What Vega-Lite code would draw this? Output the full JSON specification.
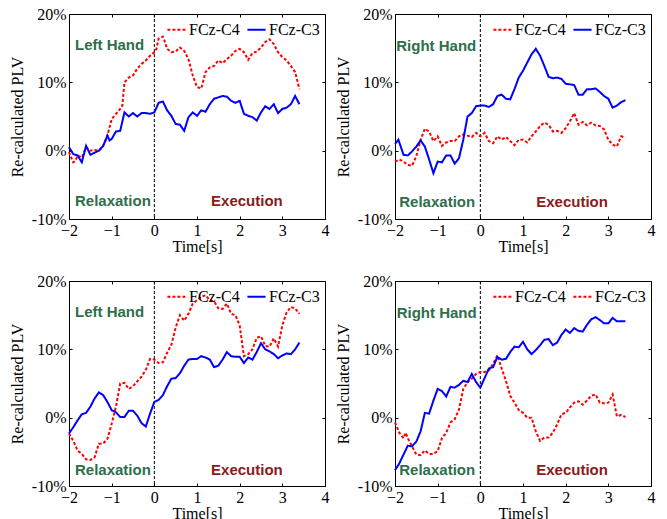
{
"$schema":"https://vega.github.io/schema/vega-lite/v6.json",
"background":"white",
"padding":{"left":8,"top":5,"right":2,"bottom":2},
"config":{
 "view":{"stroke":"black","strokeWidth":1},
 "axis":{"labelFont":"Liberation Serif","labelFontSize":16,"titleFont":"Liberation Serif","titleFontSize":16,"titleFontWeight":"normal","labelColor":"black","titleColor":"black","domainColor":"black","tickColor":"black","grid":false,"tickSize":-3,"labelPadding":6,"labelFlush":false,"labelOverlap":false},
 "axisX":{"titlePadding":0},
 "axisY":{"titlePadding":6},
 "legend":{"orient":"top-right","direction":"horizontal","labelFont":"Liberation Serif","labelFontSize":16,"labelColor":"black","symbolType":"stroke","symbolSize":330,"symbolStrokeWidth":2,"offset":5,"padding":0,"columnPadding":3,"labelOffset":2,"title":null}
},
"resolve":{"scale":{"color":"independent","strokeDash":"independent"},"legend":{"color":"independent","strokeDash":"independent"}},
"datasets":{
 "a1":[{"label":"Left Hand","t":-1.86,"v":15.4},{"label":"Relaxation","t":-1.86,"v":-7.4},{"label":"Execution","t":1.33,"v":-7.4}],
 "a2":[{"label":"Right Hand","t":-1.97,"v":15.3},{"label":"Relaxation","t":-1.9,"v":-7.5},{"label":"Execution","t":1.31,"v":-7.5}],
 "a3":[{"label":"Left Hand","t":-1.86,"v":15.4},{"label":"Relaxation","t":-1.86,"v":-7.6},{"label":"Execution","t":1.33,"v":-7.6}],
 "a4":[{"label":"Right Hand","t":-1.96,"v":15.3},{"label":"Relaxation","t":-1.9,"v":-7.6},{"label":"Execution","t":1.31,"v":-7.6}],
 "p1":[
{"t":-2,"v":-0.2,"s":"FCz-C4"},{"t":-1.95,"v":-1,"s":"FCz-C4"},{"t":-1.9,"v":-1.7,"s":"FCz-C4"},{"t":-1.85,"v":-1.5,"s":"FCz-C4"},{"t":-1.8,"v":-0.7,"s":"FCz-C4"},{"t":-1.7,"v":-1,"s":"FCz-C4"},{"t":-1.6,"v":0.5,"s":"FCz-C4"},{"t":-1.5,"v":0,"s":"FCz-C4"},{"t":-1.4,"v":0.1,"s":"FCz-C4"},{"t":-1.3,"v":0,"s":"FCz-C4"},{"t":-1.2,"v":0.7,"s":"FCz-C4"},{"t":-1.1,"v":2.2,"s":"FCz-C4"},{"t":-1,"v":4.6,"s":"FCz-C4"},{"t":-0.9,"v":5.4,"s":"FCz-C4"},{"t":-0.8,"v":6.1,"s":"FCz-C4"},{"t":-0.75,"v":6.6,"s":"FCz-C4"},{"t":-0.7,"v":10,"s":"FCz-C4"},{"t":-0.6,"v":10.7,"s":"FCz-C4"},{"t":-0.5,"v":11,"s":"FCz-C4"},{"t":-0.4,"v":12,"s":"FCz-C4"},{"t":-0.3,"v":12.7,"s":"FCz-C4"},{"t":-0.2,"v":13.2,"s":"FCz-C4"},{"t":-0.1,"v":13.9,"s":"FCz-C4"},{"t":0,"v":14.4,"s":"FCz-C4"},{"t":0.05,"v":14.9,"s":"FCz-C4"},{"t":0.1,"v":16.4,"s":"FCz-C4"},{"t":0.2,"v":16.7,"s":"FCz-C4"},{"t":0.25,"v":15.9,"s":"FCz-C4"},{"t":0.3,"v":14.9,"s":"FCz-C4"},{"t":0.4,"v":14.4,"s":"FCz-C4"},{"t":0.5,"v":14.5,"s":"FCz-C4"},{"t":0.6,"v":15.1,"s":"FCz-C4"},{"t":0.7,"v":14.6,"s":"FCz-C4"},{"t":0.8,"v":13.4,"s":"FCz-C4"},{"t":0.9,"v":11,"s":"FCz-C4"},{"t":1,"v":9.3,"s":"FCz-C4"},{"t":1.1,"v":9.1,"s":"FCz-C4"},{"t":1.2,"v":11.5,"s":"FCz-C4"},{"t":1.3,"v":12.2,"s":"FCz-C4"},{"t":1.4,"v":12.4,"s":"FCz-C4"},{"t":1.5,"v":13.2,"s":"FCz-C4"},{"t":1.6,"v":12.8,"s":"FCz-C4"},{"t":1.7,"v":13.4,"s":"FCz-C4"},{"t":1.8,"v":13.9,"s":"FCz-C4"},{"t":1.9,"v":14.6,"s":"FCz-C4"},{"t":2,"v":14.9,"s":"FCz-C4"},{"t":2.1,"v":14.4,"s":"FCz-C4"},{"t":2.2,"v":13.3,"s":"FCz-C4"},{"t":2.3,"v":14.3,"s":"FCz-C4"},{"t":2.4,"v":14.5,"s":"FCz-C4"},{"t":2.5,"v":15.1,"s":"FCz-C4"},{"t":2.6,"v":15.9,"s":"FCz-C4"},{"t":2.7,"v":16.3,"s":"FCz-C4"},{"t":2.8,"v":15.6,"s":"FCz-C4"},{"t":2.9,"v":14.4,"s":"FCz-C4"},{"t":3,"v":13.7,"s":"FCz-C4"},{"t":3.1,"v":13.2,"s":"FCz-C4"},{"t":3.2,"v":12.4,"s":"FCz-C4"},{"t":3.3,"v":11.5,"s":"FCz-C4"},{"t":3.4,"v":9,"s":"FCz-C4"},
{"t":-2,"v":0.5,"s":"FCz-C3"},{"t":-1.9,"v":-0.5,"s":"FCz-C3"},{"t":-1.8,"v":-0.7,"s":"FCz-C3"},{"t":-1.7,"v":-1.7,"s":"FCz-C3"},{"t":-1.6,"v":0.7,"s":"FCz-C3"},{"t":-1.5,"v":-0.6,"s":"FCz-C3"},{"t":-1.4,"v":-0.3,"s":"FCz-C3"},{"t":-1.3,"v":0,"s":"FCz-C3"},{"t":-1.2,"v":0.7,"s":"FCz-C3"},{"t":-1.1,"v":2.2,"s":"FCz-C3"},{"t":-1.05,"v":1.5,"s":"FCz-C3"},{"t":-1,"v":1.7,"s":"FCz-C3"},{"t":-0.9,"v":2.8,"s":"FCz-C3"},{"t":-0.8,"v":2.9,"s":"FCz-C3"},{"t":-0.7,"v":5.6,"s":"FCz-C3"},{"t":-0.6,"v":5,"s":"FCz-C3"},{"t":-0.5,"v":5.5,"s":"FCz-C3"},{"t":-0.4,"v":5,"s":"FCz-C3"},{"t":-0.3,"v":5.5,"s":"FCz-C3"},{"t":-0.2,"v":5.5,"s":"FCz-C3"},{"t":-0.1,"v":5.4,"s":"FCz-C3"},{"t":0,"v":5.6,"s":"FCz-C3"},{"t":0.1,"v":7,"s":"FCz-C3"},{"t":0.2,"v":7.2,"s":"FCz-C3"},{"t":0.3,"v":5.9,"s":"FCz-C3"},{"t":0.4,"v":5.1,"s":"FCz-C3"},{"t":0.5,"v":3.9,"s":"FCz-C3"},{"t":0.6,"v":3.8,"s":"FCz-C3"},{"t":0.7,"v":2.9,"s":"FCz-C3"},{"t":0.8,"v":4.9,"s":"FCz-C3"},{"t":0.9,"v":5.6,"s":"FCz-C3"},{"t":1,"v":5.1,"s":"FCz-C3"},{"t":1.1,"v":5.9,"s":"FCz-C3"},{"t":1.2,"v":5.7,"s":"FCz-C3"},{"t":1.3,"v":6.8,"s":"FCz-C3"},{"t":1.4,"v":7.6,"s":"FCz-C3"},{"t":1.5,"v":7.8,"s":"FCz-C3"},{"t":1.6,"v":8,"s":"FCz-C3"},{"t":1.7,"v":7.9,"s":"FCz-C3"},{"t":1.8,"v":7.3,"s":"FCz-C3"},{"t":1.9,"v":7,"s":"FCz-C3"},{"t":2,"v":7.3,"s":"FCz-C3"},{"t":2.1,"v":5.4,"s":"FCz-C3"},{"t":2.2,"v":5.1,"s":"FCz-C3"},{"t":2.3,"v":4.9,"s":"FCz-C3"},{"t":2.4,"v":4.4,"s":"FCz-C3"},{"t":2.5,"v":5.6,"s":"FCz-C3"},{"t":2.6,"v":6.5,"s":"FCz-C3"},{"t":2.7,"v":6.1,"s":"FCz-C3"},{"t":2.8,"v":6.8,"s":"FCz-C3"},{"t":2.9,"v":5.5,"s":"FCz-C3"},{"t":3,"v":6.1,"s":"FCz-C3"},{"t":3.1,"v":6.3,"s":"FCz-C3"},{"t":3.2,"v":6.8,"s":"FCz-C3"},{"t":3.3,"v":8,"s":"FCz-C3"},{"t":3.4,"v":6.8,"s":"FCz-C3"}
 ],
 "p2":[
{"t":-2,"v":-1.6,"s":"FCz-C4"},{"t":-1.9,"v":-1.3,"s":"FCz-C4"},{"t":-1.8,"v":-1.6,"s":"FCz-C4"},{"t":-1.7,"v":-2.1,"s":"FCz-C4"},{"t":-1.6,"v":-2.2,"s":"FCz-C4"},{"t":-1.5,"v":-0.8,"s":"FCz-C4"},{"t":-1.4,"v":1.6,"s":"FCz-C4"},{"t":-1.3,"v":3.2,"s":"FCz-C4"},{"t":-1.2,"v":2.8,"s":"FCz-C4"},{"t":-1.1,"v":1.4,"s":"FCz-C4"},{"t":-1,"v":2.1,"s":"FCz-C4"},{"t":-0.9,"v":0.7,"s":"FCz-C4"},{"t":-0.8,"v":1.2,"s":"FCz-C4"},{"t":-0.7,"v":1.4,"s":"FCz-C4"},{"t":-0.6,"v":1.4,"s":"FCz-C4"},{"t":-0.5,"v":2.1,"s":"FCz-C4"},{"t":-0.4,"v":2.4,"s":"FCz-C4"},{"t":-0.3,"v":2.2,"s":"FCz-C4"},{"t":-0.2,"v":2,"s":"FCz-C4"},{"t":-0.1,"v":2.6,"s":"FCz-C4"},{"t":0,"v":2.1,"s":"FCz-C4"},{"t":0.1,"v":2.6,"s":"FCz-C4"},{"t":0.2,"v":1.4,"s":"FCz-C4"},{"t":0.3,"v":1.1,"s":"FCz-C4"},{"t":0.4,"v":2.1,"s":"FCz-C4"},{"t":0.5,"v":1.6,"s":"FCz-C4"},{"t":0.6,"v":2,"s":"FCz-C4"},{"t":0.7,"v":1.4,"s":"FCz-C4"},{"t":0.8,"v":0.8,"s":"FCz-C4"},{"t":0.9,"v":1.6,"s":"FCz-C4"},{"t":1,"v":1.6,"s":"FCz-C4"},{"t":1.1,"v":1.2,"s":"FCz-C4"},{"t":1.2,"v":2.1,"s":"FCz-C4"},{"t":1.3,"v":2.8,"s":"FCz-C4"},{"t":1.4,"v":3.6,"s":"FCz-C4"},{"t":1.5,"v":4.1,"s":"FCz-C4"},{"t":1.6,"v":3.8,"s":"FCz-C4"},{"t":1.7,"v":2.8,"s":"FCz-C4"},{"t":1.8,"v":2.9,"s":"FCz-C4"},{"t":1.9,"v":2.6,"s":"FCz-C4"},{"t":2,"v":3.3,"s":"FCz-C4"},{"t":2.1,"v":4.3,"s":"FCz-C4"},{"t":2.2,"v":5.5,"s":"FCz-C4"},{"t":2.3,"v":3.8,"s":"FCz-C4"},{"t":2.4,"v":4.2,"s":"FCz-C4"},{"t":2.5,"v":3.7,"s":"FCz-C4"},{"t":2.6,"v":4.1,"s":"FCz-C4"},{"t":2.7,"v":3.7,"s":"FCz-C4"},{"t":2.8,"v":3.6,"s":"FCz-C4"},{"t":2.9,"v":3.1,"s":"FCz-C4"},{"t":3,"v":1.6,"s":"FCz-C4"},{"t":3.1,"v":0.9,"s":"FCz-C4"},{"t":3.2,"v":0.6,"s":"FCz-C4"},{"t":3.3,"v":2.1,"s":"FCz-C4"},{"t":3.4,"v":1.9,"s":"FCz-C4"},
{"t":-2,"v":1,"s":"FCz-C3"},{"t":-1.92,"v":1.6,"s":"FCz-C3"},{"t":-1.8,"v":-0.6,"s":"FCz-C3"},{"t":-1.7,"v":-0.7,"s":"FCz-C3"},{"t":-1.6,"v":-0.1,"s":"FCz-C3"},{"t":-1.5,"v":0.6,"s":"FCz-C3"},{"t":-1.4,"v":1.5,"s":"FCz-C3"},{"t":-1.3,"v":0.6,"s":"FCz-C3"},{"t":-1.2,"v":-1.3,"s":"FCz-C3"},{"t":-1.1,"v":-3.3,"s":"FCz-C3"},{"t":-1,"v":-1.6,"s":"FCz-C3"},{"t":-0.9,"v":-1.7,"s":"FCz-C3"},{"t":-0.8,"v":-0.7,"s":"FCz-C3"},{"t":-0.7,"v":-0.7,"s":"FCz-C3"},{"t":-0.6,"v":-1.9,"s":"FCz-C3"},{"t":-0.5,"v":-1.1,"s":"FCz-C3"},{"t":-0.4,"v":1.6,"s":"FCz-C3"},{"t":-0.3,"v":5,"s":"FCz-C3"},{"t":-0.2,"v":5.5,"s":"FCz-C3"},{"t":-0.1,"v":6.5,"s":"FCz-C3"},{"t":0,"v":6.6,"s":"FCz-C3"},{"t":0.1,"v":6.6,"s":"FCz-C3"},{"t":0.2,"v":6.4,"s":"FCz-C3"},{"t":0.3,"v":6.8,"s":"FCz-C3"},{"t":0.4,"v":8,"s":"FCz-C3"},{"t":0.5,"v":8.2,"s":"FCz-C3"},{"t":0.6,"v":7.6,"s":"FCz-C3"},{"t":0.7,"v":7.5,"s":"FCz-C3"},{"t":0.8,"v":9,"s":"FCz-C3"},{"t":0.9,"v":10.7,"s":"FCz-C3"},{"t":1,"v":11.7,"s":"FCz-C3"},{"t":1.1,"v":12.9,"s":"FCz-C3"},{"t":1.2,"v":14.1,"s":"FCz-C3"},{"t":1.3,"v":14.9,"s":"FCz-C3"},{"t":1.4,"v":13.9,"s":"FCz-C3"},{"t":1.5,"v":12.4,"s":"FCz-C3"},{"t":1.6,"v":10.8,"s":"FCz-C3"},{"t":1.7,"v":10.6,"s":"FCz-C3"},{"t":1.8,"v":10.7,"s":"FCz-C3"},{"t":1.9,"v":10.5,"s":"FCz-C3"},{"t":2,"v":9.8,"s":"FCz-C3"},{"t":2.1,"v":9.7,"s":"FCz-C3"},{"t":2.2,"v":9.6,"s":"FCz-C3"},{"t":2.3,"v":8.2,"s":"FCz-C3"},{"t":2.4,"v":8.2,"s":"FCz-C3"},{"t":2.5,"v":9,"s":"FCz-C3"},{"t":2.6,"v":9,"s":"FCz-C3"},{"t":2.7,"v":9.1,"s":"FCz-C3"},{"t":2.8,"v":8.6,"s":"FCz-C3"},{"t":2.9,"v":8,"s":"FCz-C3"},{"t":3,"v":7.6,"s":"FCz-C3"},{"t":3.1,"v":6.3,"s":"FCz-C3"},{"t":3.2,"v":6.6,"s":"FCz-C3"},{"t":3.3,"v":7.1,"s":"FCz-C3"},{"t":3.4,"v":7.4,"s":"FCz-C3"}
 ],
 "p3":[
{"t":-2,"v":-2.3,"s":"FCz-C4"},{"t":-1.9,"v":-3.4,"s":"FCz-C4"},{"t":-1.8,"v":-4.8,"s":"FCz-C4"},{"t":-1.7,"v":-5.3,"s":"FCz-C4"},{"t":-1.6,"v":-6.1,"s":"FCz-C4"},{"t":-1.5,"v":-6.2,"s":"FCz-C4"},{"t":-1.4,"v":-5.8,"s":"FCz-C4"},{"t":-1.3,"v":-3.8,"s":"FCz-C4"},{"t":-1.2,"v":-3.8,"s":"FCz-C4"},{"t":-1.1,"v":-3.1,"s":"FCz-C4"},{"t":-1,"v":-0.9,"s":"FCz-C4"},{"t":-0.9,"v":1.6,"s":"FCz-C4"},{"t":-0.8,"v":5,"s":"FCz-C4"},{"t":-0.7,"v":5.1,"s":"FCz-C4"},{"t":-0.6,"v":4.2,"s":"FCz-C4"},{"t":-0.5,"v":4.6,"s":"FCz-C4"},{"t":-0.4,"v":5.3,"s":"FCz-C4"},{"t":-0.3,"v":6,"s":"FCz-C4"},{"t":-0.2,"v":7,"s":"FCz-C4"},{"t":-0.1,"v":8.6,"s":"FCz-C4"},{"t":0,"v":8.5,"s":"FCz-C4"},{"t":0.1,"v":8,"s":"FCz-C4"},{"t":0.2,"v":8.1,"s":"FCz-C4"},{"t":0.3,"v":9.5,"s":"FCz-C4"},{"t":0.4,"v":10.7,"s":"FCz-C4"},{"t":0.5,"v":13.2,"s":"FCz-C4"},{"t":0.6,"v":15,"s":"FCz-C4"},{"t":0.7,"v":14.2,"s":"FCz-C4"},{"t":0.8,"v":15.2,"s":"FCz-C4"},{"t":0.9,"v":16.7,"s":"FCz-C4"},{"t":1,"v":17.2,"s":"FCz-C4"},{"t":1.1,"v":17.7,"s":"FCz-C4"},{"t":1.2,"v":17.9,"s":"FCz-C4"},{"t":1.3,"v":17.2,"s":"FCz-C4"},{"t":1.4,"v":17,"s":"FCz-C4"},{"t":1.5,"v":16,"s":"FCz-C4"},{"t":1.6,"v":15.9,"s":"FCz-C4"},{"t":1.7,"v":16.7,"s":"FCz-C4"},{"t":1.8,"v":15.2,"s":"FCz-C4"},{"t":1.9,"v":15,"s":"FCz-C4"},{"t":2,"v":13.5,"s":"FCz-C4"},{"t":2.1,"v":9,"s":"FCz-C4"},{"t":2.2,"v":9.3,"s":"FCz-C4"},{"t":2.3,"v":10,"s":"FCz-C4"},{"t":2.4,"v":11.7,"s":"FCz-C4"},{"t":2.5,"v":11.9,"s":"FCz-C4"},{"t":2.6,"v":10.5,"s":"FCz-C4"},{"t":2.7,"v":10.4,"s":"FCz-C4"},{"t":2.8,"v":11.6,"s":"FCz-C4"},{"t":2.9,"v":10.4,"s":"FCz-C4"},{"t":3,"v":13.5,"s":"FCz-C4"},{"t":3.1,"v":15.4,"s":"FCz-C4"},{"t":3.2,"v":16.2,"s":"FCz-C4"},{"t":3.3,"v":16,"s":"FCz-C4"},{"t":3.4,"v":15.2,"s":"FCz-C4"},
{"t":-2,"v":-2.3,"s":"FCz-C3"},{"t":-1.9,"v":-1.4,"s":"FCz-C3"},{"t":-1.8,"v":-0.4,"s":"FCz-C3"},{"t":-1.7,"v":0.5,"s":"FCz-C3"},{"t":-1.6,"v":0.7,"s":"FCz-C3"},{"t":-1.5,"v":1.6,"s":"FCz-C3"},{"t":-1.4,"v":2.8,"s":"FCz-C3"},{"t":-1.3,"v":3.7,"s":"FCz-C3"},{"t":-1.2,"v":3.3,"s":"FCz-C3"},{"t":-1.1,"v":2.3,"s":"FCz-C3"},{"t":-1,"v":1.1,"s":"FCz-C3"},{"t":-0.9,"v":0.8,"s":"FCz-C3"},{"t":-0.8,"v":0.1,"s":"FCz-C3"},{"t":-0.7,"v":0.1,"s":"FCz-C3"},{"t":-0.6,"v":1,"s":"FCz-C3"},{"t":-0.5,"v":1,"s":"FCz-C3"},{"t":-0.4,"v":0.3,"s":"FCz-C3"},{"t":-0.3,"v":-0.8,"s":"FCz-C3"},{"t":-0.2,"v":-1.3,"s":"FCz-C3"},{"t":-0.1,"v":0.6,"s":"FCz-C3"},{"t":0,"v":2.3,"s":"FCz-C3"},{"t":0.1,"v":2.6,"s":"FCz-C3"},{"t":0.2,"v":3.3,"s":"FCz-C3"},{"t":0.3,"v":4.6,"s":"FCz-C3"},{"t":0.4,"v":5.7,"s":"FCz-C3"},{"t":0.5,"v":5.8,"s":"FCz-C3"},{"t":0.6,"v":6.5,"s":"FCz-C3"},{"t":0.7,"v":7.6,"s":"FCz-C3"},{"t":0.8,"v":8.5,"s":"FCz-C3"},{"t":0.9,"v":8.6,"s":"FCz-C3"},{"t":1,"v":8.6,"s":"FCz-C3"},{"t":1.1,"v":9,"s":"FCz-C3"},{"t":1.2,"v":8.8,"s":"FCz-C3"},{"t":1.3,"v":8.5,"s":"FCz-C3"},{"t":1.4,"v":7.4,"s":"FCz-C3"},{"t":1.5,"v":7.6,"s":"FCz-C3"},{"t":1.6,"v":8.5,"s":"FCz-C3"},{"t":1.7,"v":9.6,"s":"FCz-C3"},{"t":1.8,"v":9,"s":"FCz-C3"},{"t":1.9,"v":8.9,"s":"FCz-C3"},{"t":2,"v":8.9,"s":"FCz-C3"},{"t":2.1,"v":8,"s":"FCz-C3"},{"t":2.2,"v":8.8,"s":"FCz-C3"},{"t":2.3,"v":8.5,"s":"FCz-C3"},{"t":2.4,"v":9.6,"s":"FCz-C3"},{"t":2.5,"v":10.9,"s":"FCz-C3"},{"t":2.6,"v":10,"s":"FCz-C3"},{"t":2.7,"v":9.7,"s":"FCz-C3"},{"t":2.8,"v":9.3,"s":"FCz-C3"},{"t":2.9,"v":8.7,"s":"FCz-C3"},{"t":3,"v":9.1,"s":"FCz-C3"},{"t":3.1,"v":9.4,"s":"FCz-C3"},{"t":3.2,"v":9.3,"s":"FCz-C3"},{"t":3.3,"v":10,"s":"FCz-C3"},{"t":3.4,"v":11,"s":"FCz-C3"}
 ],
 "p4":[
{"t":-2,"v":-0.7,"s":"FCz-C4"},{"t":-1.9,"v":-2.2,"s":"FCz-C4"},{"t":-1.8,"v":-3,"s":"FCz-C4"},{"t":-1.75,"v":-2.2,"s":"FCz-C4"},{"t":-1.7,"v":-3,"s":"FCz-C4"},{"t":-1.6,"v":-4.2,"s":"FCz-C4"},{"t":-1.5,"v":-5.4,"s":"FCz-C4"},{"t":-1.4,"v":-5.5,"s":"FCz-C4"},{"t":-1.3,"v":-4.8,"s":"FCz-C4"},{"t":-1.2,"v":-5.3,"s":"FCz-C4"},{"t":-1.1,"v":-5.3,"s":"FCz-C4"},{"t":-1,"v":-4.9,"s":"FCz-C4"},{"t":-0.9,"v":-3,"s":"FCz-C4"},{"t":-0.8,"v":-2.2,"s":"FCz-C4"},{"t":-0.7,"v":-0.7,"s":"FCz-C4"},{"t":-0.6,"v":-0.2,"s":"FCz-C4"},{"t":-0.5,"v":1.2,"s":"FCz-C4"},{"t":-0.4,"v":4.2,"s":"FCz-C4"},{"t":-0.3,"v":5.2,"s":"FCz-C4"},{"t":-0.2,"v":5.7,"s":"FCz-C4"},{"t":-0.1,"v":6.4,"s":"FCz-C4"},{"t":0,"v":6.7,"s":"FCz-C4"},{"t":0.1,"v":6.7,"s":"FCz-C4"},{"t":0.2,"v":6.9,"s":"FCz-C4"},{"t":0.3,"v":7.9,"s":"FCz-C4"},{"t":0.4,"v":9.1,"s":"FCz-C4"},{"t":0.5,"v":7.2,"s":"FCz-C4"},{"t":0.6,"v":5.4,"s":"FCz-C4"},{"t":0.7,"v":3.2,"s":"FCz-C4"},{"t":0.8,"v":2.2,"s":"FCz-C4"},{"t":0.9,"v":1.1,"s":"FCz-C4"},{"t":1,"v":0.7,"s":"FCz-C4"},{"t":1.1,"v":0,"s":"FCz-C4"},{"t":1.2,"v":0,"s":"FCz-C4"},{"t":1.3,"v":-2,"s":"FCz-C4"},{"t":1.4,"v":-3.4,"s":"FCz-C4"},{"t":1.5,"v":-2.9,"s":"FCz-C4"},{"t":1.6,"v":-2.9,"s":"FCz-C4"},{"t":1.7,"v":-2.2,"s":"FCz-C4"},{"t":1.8,"v":-1,"s":"FCz-C4"},{"t":1.9,"v":0.5,"s":"FCz-C4"},{"t":2,"v":0.7,"s":"FCz-C4"},{"t":2.1,"v":1.5,"s":"FCz-C4"},{"t":2.2,"v":2.2,"s":"FCz-C4"},{"t":2.3,"v":2.4,"s":"FCz-C4"},{"t":2.4,"v":1.9,"s":"FCz-C4"},{"t":2.5,"v":2.5,"s":"FCz-C4"},{"t":2.6,"v":3.2,"s":"FCz-C4"},{"t":2.7,"v":3.4,"s":"FCz-C4"},{"t":2.8,"v":2.2,"s":"FCz-C4"},{"t":2.9,"v":2.1,"s":"FCz-C4"},{"t":3,"v":2.2,"s":"FCz-C4"},{"t":3.1,"v":3.4,"s":"FCz-C4"},{"t":3.2,"v":0.2,"s":"FCz-C4"},{"t":3.3,"v":0.4,"s":"FCz-C4"},{"t":3.4,"v":0.1,"s":"FCz-C4"},
{"t":-2,"v":-7.7,"s":"FCz-C3"},{"t":-1.9,"v":-6.7,"s":"FCz-C3"},{"t":-1.8,"v":-5.4,"s":"FCz-C3"},{"t":-1.7,"v":-4.1,"s":"FCz-C3"},{"t":-1.6,"v":-4.2,"s":"FCz-C3"},{"t":-1.5,"v":-3.5,"s":"FCz-C3"},{"t":-1.4,"v":-2,"s":"FCz-C3"},{"t":-1.3,"v":0.7,"s":"FCz-C3"},{"t":-1.2,"v":0.6,"s":"FCz-C3"},{"t":-1.1,"v":2.5,"s":"FCz-C3"},{"t":-1,"v":4.2,"s":"FCz-C3"},{"t":-0.9,"v":3.9,"s":"FCz-C3"},{"t":-0.8,"v":3.1,"s":"FCz-C3"},{"t":-0.7,"v":4.5,"s":"FCz-C3"},{"t":-0.6,"v":4.4,"s":"FCz-C3"},{"t":-0.5,"v":4.8,"s":"FCz-C3"},{"t":-0.4,"v":5.4,"s":"FCz-C3"},{"t":-0.3,"v":5.2,"s":"FCz-C3"},{"t":-0.2,"v":6.4,"s":"FCz-C3"},{"t":-0.1,"v":5.2,"s":"FCz-C3"},{"t":0,"v":4.4,"s":"FCz-C3"},{"t":0.1,"v":5.8,"s":"FCz-C3"},{"t":0.2,"v":7.2,"s":"FCz-C3"},{"t":0.3,"v":7.4,"s":"FCz-C3"},{"t":0.4,"v":8.9,"s":"FCz-C3"},{"t":0.5,"v":8.5,"s":"FCz-C3"},{"t":0.6,"v":8.6,"s":"FCz-C3"},{"t":0.7,"v":9.6,"s":"FCz-C3"},{"t":0.8,"v":10.4,"s":"FCz-C3"},{"t":0.9,"v":10.3,"s":"FCz-C3"},{"t":1,"v":11.1,"s":"FCz-C3"},{"t":1.1,"v":10,"s":"FCz-C3"},{"t":1.2,"v":9.3,"s":"FCz-C3"},{"t":1.3,"v":9.9,"s":"FCz-C3"},{"t":1.4,"v":10.6,"s":"FCz-C3"},{"t":1.5,"v":11.4,"s":"FCz-C3"},{"t":1.6,"v":11.5,"s":"FCz-C3"},{"t":1.7,"v":10.6,"s":"FCz-C3"},{"t":1.8,"v":11,"s":"FCz-C3"},{"t":1.9,"v":12.1,"s":"FCz-C3"},{"t":2,"v":12.9,"s":"FCz-C3"},{"t":2.1,"v":12.4,"s":"FCz-C3"},{"t":2.2,"v":13.1,"s":"FCz-C3"},{"t":2.3,"v":12.7,"s":"FCz-C3"},{"t":2.4,"v":12.6,"s":"FCz-C3"},{"t":2.5,"v":13.6,"s":"FCz-C3"},{"t":2.6,"v":14.4,"s":"FCz-C3"},{"t":2.7,"v":14.7,"s":"FCz-C3"},{"t":2.8,"v":14.3,"s":"FCz-C3"},{"t":2.9,"v":13.8,"s":"FCz-C3"},{"t":3,"v":13.8,"s":"FCz-C3"},{"t":3.1,"v":14.6,"s":"FCz-C3"},{"t":3.2,"v":14.1,"s":"FCz-C3"},{"t":3.3,"v":14.1,"s":"FCz-C3"},{"t":3.4,"v":14.1,"s":"FCz-C3"}
 ]
},
"spacing":17,
"vconcat":[
 {"hconcat":[
  {"width":256,"height":205,"layer":[
   {"data":{"values":[{"t":0}]},"mark":{"type":"rule","strokeDash":[3,2],"color":"black","strokeWidth":1},
    "encoding":{"x":{"field":"t","type":"quantitative","scale":{"domain":[-2,4],"nice":false},"axis":{"orient":"top","labels":false,"title":null,"domain":false,"values":[-2,-1,0,1,2,3,4]}}}},
   {"data":{"name":"p1"},"mark":{"type":"line","strokeWidth":2},
    "encoding":{
     "x":{"field":"t","type":"quantitative","scale":{"domain":[-2,4],"nice":false},"axis":{"values":[-2,-1,0,1,2,3,4],"title":"Time[s]"}},
     "y":{"field":"v","type":"quantitative","scale":{"domain":[-10,20],"nice":false},"axis":{"values":[-10,0,10,20],"labelExpr":"datum.value + '%'","title":"Re-calculated PLV"}},
     "color":{"field":"s","type":"nominal","scale":{"domain":["FCz-C4","FCz-C3"],"range":["#ff0000","#0000ff"]},"title":null},
     "strokeDash":{"field":"s","type":"nominal","scale":{"domain":["FCz-C4","FCz-C3"],"range":[[3,2],[1,0]]},"title":null}}},
   {"data":{"name":"a1"},"mark":{"type":"text","align":"left","baseline":"middle","font":"Liberation Sans","fontWeight":"bold","fontSize":15},
    "encoding":{"x":{"field":"t","type":"quantitative","axis":null},"y":{"field":"v","type":"quantitative","axis":{"orient":"right","labels":false,"title":null,"domain":false,"values":[-10,0,10,20]}},"text":{"field":"label"},
     "color":{"condition":{"test":"datum.label === 'Execution'","value":"#8b1a1a"},"value":"#2e6e4b"}}}
  ],"resolve":{"axis":{"x":"independent","y":"independent"}}},
  {"width":256,"height":205,"layer":[
   {"data":{"values":[{"t":0}]},"mark":{"type":"rule","strokeDash":[3,2],"color":"black","strokeWidth":1},
    "encoding":{"x":{"field":"t","type":"quantitative","scale":{"domain":[-2,4],"nice":false},"axis":{"orient":"top","labels":false,"title":null,"domain":false,"values":[-2,-1,0,1,2,3,4]}}}},
   {"data":{"name":"p2"},"mark":{"type":"line","strokeWidth":2},
    "encoding":{
     "x":{"field":"t","type":"quantitative","scale":{"domain":[-2,4],"nice":false},"axis":{"values":[-2,-1,0,1,2,3,4],"title":"Time[s]"}},
     "y":{"field":"v","type":"quantitative","scale":{"domain":[-10,20],"nice":false},"axis":{"values":[-10,0,10,20],"labelExpr":"datum.value + '%'","title":"Re-calculated PLV"}},
     "color":{"field":"s","type":"nominal","scale":{"domain":["FCz-C4","FCz-C3"],"range":["#ff0000","#0000ff"]},"title":null},
     "strokeDash":{"field":"s","type":"nominal","scale":{"domain":["FCz-C4","FCz-C3"],"range":[[3,2],[1,0]]},"title":null}}},
   {"data":{"name":"a2"},"mark":{"type":"text","align":"left","baseline":"middle","font":"Liberation Sans","fontWeight":"bold","fontSize":15},
    "encoding":{"x":{"field":"t","type":"quantitative","axis":null},"y":{"field":"v","type":"quantitative","axis":{"orient":"right","labels":false,"title":null,"domain":false,"values":[-10,0,10,20]}},"text":{"field":"label"},
     "color":{"condition":{"test":"datum.label === 'Execution'","value":"#8b1a1a"},"value":"#2e6e4b"}}}
  ],"resolve":{"axis":{"x":"independent","y":"independent"}}}
 ],"spacing":4,"resolve":{"scale":{"color":"independent","strokeDash":"independent"},"legend":{"color":"independent","strokeDash":"independent"}}},
 {"hconcat":[
  {"width":256,"height":205,"layer":[
   {"data":{"values":[{"t":0}]},"mark":{"type":"rule","strokeDash":[3,2],"color":"black","strokeWidth":1},
    "encoding":{"x":{"field":"t","type":"quantitative","scale":{"domain":[-2,4],"nice":false},"axis":{"orient":"top","labels":false,"title":null,"domain":false,"values":[-2,-1,0,1,2,3,4]}}}},
   {"data":{"name":"p3"},"mark":{"type":"line","strokeWidth":2},
    "encoding":{
     "x":{"field":"t","type":"quantitative","scale":{"domain":[-2,4],"nice":false},"axis":{"values":[-2,-1,0,1,2,3,4],"title":"Time[s]"}},
     "y":{"field":"v","type":"quantitative","scale":{"domain":[-10,20],"nice":false},"axis":{"values":[-10,0,10,20],"labelExpr":"datum.value + '%'","title":"Re-calculated PLV"}},
     "color":{"field":"s","type":"nominal","scale":{"domain":["FCz-C4","FCz-C3"],"range":["#ff0000","#0000ff"]},"title":null},
     "strokeDash":{"field":"s","type":"nominal","scale":{"domain":["FCz-C4","FCz-C3"],"range":[[3,2],[1,0]]},"title":null}}},
   {"data":{"name":"a3"},"mark":{"type":"text","align":"left","baseline":"middle","font":"Liberation Sans","fontWeight":"bold","fontSize":15},
    "encoding":{"x":{"field":"t","type":"quantitative","axis":null},"y":{"field":"v","type":"quantitative","axis":{"orient":"right","labels":false,"title":null,"domain":false,"values":[-10,0,10,20]}},"text":{"field":"label"},
     "color":{"condition":{"test":"datum.label === 'Execution'","value":"#8b1a1a"},"value":"#2e6e4b"}}}
  ],"resolve":{"axis":{"x":"independent","y":"independent"}}},
  {"width":256,"height":205,"layer":[
   {"data":{"values":[{"t":0}]},"mark":{"type":"rule","strokeDash":[3,2],"color":"black","strokeWidth":1},
    "encoding":{"x":{"field":"t","type":"quantitative","scale":{"domain":[-2,4],"nice":false},"axis":{"orient":"top","labels":false,"title":null,"domain":false,"values":[-2,-1,0,1,2,3,4]}}}},
   {"data":{"name":"p4"},"mark":{"type":"line","strokeWidth":2},
    "encoding":{
     "x":{"field":"t","type":"quantitative","scale":{"domain":[-2,4],"nice":false},"axis":{"values":[-2,-1,0,1,2,3,4],"title":"Time[s]"}},
     "y":{"field":"v","type":"quantitative","scale":{"domain":[-10,20],"nice":false},"axis":{"values":[-10,0,10,20],"labelExpr":"datum.value + '%'","title":"Re-calculated PLV"}},
     "color":{"field":"s","type":"nominal","scale":{"domain":["FCz-C4","FCz-C3"],"range":["#ff0000","#0000ff"]},"legend":null},
     "strokeDash":{"field":"s","type":"nominal","scale":{"domain":["FCz-C4","FCz-C3"],"range":[[3,2],[1,0]]},"legend":null}}},
   {"data":{"name":"p4"},"transform":[{"filter":"datum.t > 100"}],"mark":{"type":"line","strokeWidth":2},
    "encoding":{
     "x":{"field":"t","type":"quantitative","axis":null},
     "y":{"field":"v","type":"quantitative","axis":null},
     "color":{"field":"s","type":"nominal","scale":{"domain":["FCz-C4","FCz-C3"],"range":["#ff0000","#ff0000"]},"title":null},
     "strokeDash":{"field":"s","type":"nominal","scale":{"domain":["FCz-C4","FCz-C3"],"range":[[3,2],[3,2]]},"title":null}}},
   {"data":{"name":"a4"},"mark":{"type":"text","align":"left","baseline":"middle","font":"Liberation Sans","fontWeight":"bold","fontSize":15},
    "encoding":{"x":{"field":"t","type":"quantitative","axis":null},"y":{"field":"v","type":"quantitative","axis":{"orient":"right","labels":false,"title":null,"domain":false,"values":[-10,0,10,20]}},"text":{"field":"label"},
     "color":{"condition":{"test":"datum.label === 'Execution'","value":"#8b1a1a"},"value":"#2e6e4b"}}}
  ],"resolve":{"axis":{"x":"independent","y":"independent"},"scale":{"color":"independent","strokeDash":"independent"}}}
 ],"spacing":4,"resolve":{"scale":{"color":"independent","strokeDash":"independent"},"legend":{"color":"independent","strokeDash":"independent"}}}
]
}
